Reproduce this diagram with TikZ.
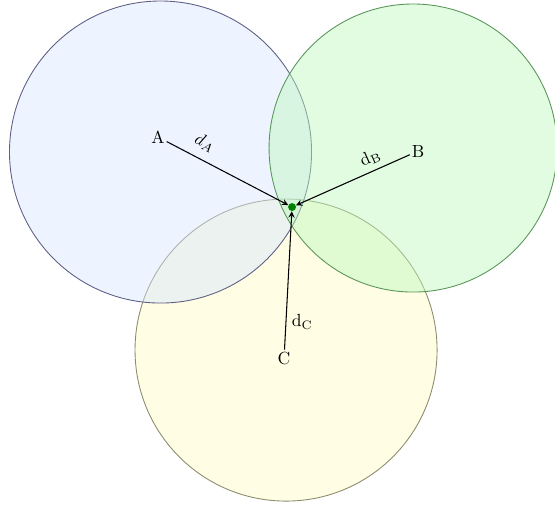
\documentclass[tikz,border=0pt]{standalone}
\usepackage{amsmath}
\usepackage{tikz}
\usetikzlibrary{arrows, positioning}
\definecolor{fillA}{RGB}{214,230,255}
\definecolor{fillB}{RGB}{188,248,188}
\definecolor{fillC}{RGB}{255,250,195}
\definecolor{lineA}{RGB}{95,95,135}
\definecolor{lineB}{RGB}{90,150,90}
\definecolor{lineC}{RGB}{140,140,110}
\tikzset{
    zone/.style={line width=0.5pt, fill opacity=0.45},
    anchor point/.style={inner sep=1pt, font=\normalsize},
    target/.style={circle, fill=green!50!black, inner sep=0pt, minimum size=4.5pt},
    arrow/.style={->,>=stealth, semithick}
}
\begin{document}
\begin{tikzpicture}
    \useasboundingbox (0,0) rectangle (11.1,-10.16);
    \begin{scope}[x=0.02cm, y=-0.02cm]
        % Circles
        \draw[zone, draw=lineC, fill=fillC] (286,350) circle (151);
        \draw[zone, draw=lineA, fill=fillA] (160.5,152) circle (151);
        \draw[zone, draw=lineB, fill=fillB] (413,148) circle (144);

        % Centres and point
        \node[anchor point] (A) at (158,137) {A};
        \node[anchor point] (B) at (418,151) {B};
        \node[anchor point] (C) at (284,358) {C};
        \node[target] (P) at (292,207) {};

        % Distances
        \draw[arrow] (A) -- node[pos=0.25, above, sloped, inner sep=5pt] {$d_A$} (P);
        \draw[arrow] (B) -- node[pos=0.3, above, sloped, inner sep=3pt] {d$_\mathrm{B}$} (P);
        \draw[arrow] (C) -- node[pos=0.2, right, inner sep=3pt] {d$_\mathrm{C}$} (P);
    \end{scope}
\end{tikzpicture}
\end{document}
